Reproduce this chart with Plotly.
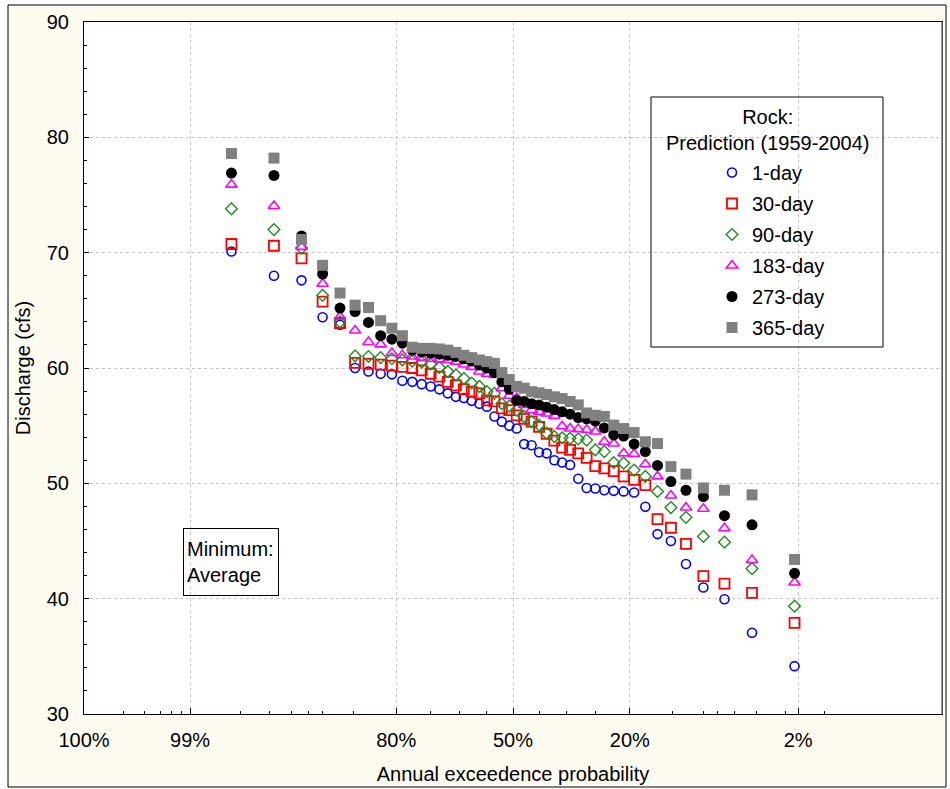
from statistics import NormalDist
import plotly.graph_objects as go

# Rock: annual minimum discharge (cfs), 1959-2004, ranked highest to lowest
YEARS = 46
rank = list(range(1, YEARS + 1))
# Weibull plotting position for each rank (annual exceedance probability)
exceedance = [(YEARS + 1 - k) / (YEARS + 1) for k in rank]

series_names = ["1-day", "30-day", "90-day", "183-day", "273-day", "365-day"]

day1 = [70.1, 68.0, 67.6, 64.4, 63.75, 60.0, 59.7, 59.5, 59.45, 58.9,
        58.8, 58.6, 58.4, 58.15, 57.8, 57.5, 57.4, 57.15, 56.9, 56.65,
        55.8, 55.35, 55.0, 54.75, 53.4, 53.3, 52.7, 52.6, 52.0, 51.8,
        51.6, 50.4, 49.6, 49.55, 49.4, 49.35, 49.3, 49.2, 47.97, 45.6,
        45.0, 43.0, 40.97, 39.95, 37.05, 34.15]
day30 = [70.75, 70.6, 69.5, 65.75, 63.9, 60.45, 60.35, 60.3, 60.2, 60.1,
         60.0, 59.8, 59.5, 59.25, 58.8, 58.5, 58.15, 57.95, 57.8, 57.2,
         57.1, 56.5, 56.35, 55.9, 55.6, 55.35, 54.9, 54.3, 53.7, 53.1,
         52.9, 52.6, 52.2, 51.5, 51.3, 51.05, 50.6, 50.3, 49.85, 46.9,
         46.15, 44.75, 41.95, 41.3, 40.5, 37.9]
day90 = [73.8, 72.0, 70.4, 66.3, 64.0, 61.05, 61.0, 60.9, 60.8, 60.7,
         60.6, 60.5, 60.35, 60.05, 59.7, 59.4, 59.1, 58.7, 58.4, 57.95,
         57.8, 56.9, 56.7, 56.35, 55.8, 55.35, 55.05, 54.35, 54.05, 53.95,
         53.9, 53.85, 53.75, 52.9, 52.75, 51.8, 51.75, 51.15, 50.6, 49.3,
         47.9, 47.05, 45.4, 44.9, 42.6, 39.35]
day183 = [75.9, 74.05, 70.5, 67.3, 64.45, 63.25, 62.25, 62.05, 61.3, 61.1,
          61.0, 60.9, 60.8, 60.75, 60.7, 60.55, 60.3, 60.1, 59.7, 59.5,
          59.4, 58.25, 57.6, 57.4, 56.8, 56.35, 56.2, 56.05, 55.85, 54.95,
          54.75, 54.7, 54.65, 54.5, 53.6, 53.45, 52.6, 52.55, 51.65, 50.6,
          48.95, 47.9, 47.8, 46.1, 43.35, 41.4]
day273 = [76.9, 76.7, 71.45, 68.15, 65.2, 64.9, 63.95, 62.8, 62.5, 62.15,
          61.55, 61.4, 61.3, 61.2, 61.1, 61.0, 60.8, 60.6, 60.25, 60.0,
          59.6, 58.8, 58.15, 57.2, 57.1, 56.9, 56.8, 56.6, 56.4, 56.2,
          56.0, 55.7, 55.6, 55.4, 54.8, 54.2, 54.1, 53.4, 52.75, 51.55,
          50.15, 49.4, 48.85, 47.2, 46.4, 42.2]
day365 = [78.6, 78.2, 71.15, 68.9, 66.5, 65.45, 65.25, 64.1, 63.45, 62.8,
          61.8, 61.7, 61.7, 61.65, 61.55, 61.35, 61.1, 60.9, 60.7, 60.55,
          60.4, 59.6, 59.0, 58.4, 58.25, 57.95, 57.85, 57.7, 57.5, 57.35,
          57.1, 56.8, 56.1, 55.9, 55.8, 55.05, 54.75, 54.4, 53.6, 53.45,
          51.45, 50.8, 49.6, 49.4, 49.0, 43.4]

# Probability-axis ticks (exceedance probabilities)
major_probs = [0.999, 0.99, 0.80, 0.50, 0.20, 0.02]
major_labels = ["100%", "99%", "80%", "50%", "20%", "2%"]
minor_probs = [0.9975, 0.996, 0.9945, 0.993, 0.9915,
               0.975, 0.96, 0.945, 0.93, 0.915, 0.875,
               0.725, 0.65, 0.575, 0.425, 0.35, 0.275,
               0.125, 0.085, 0.07, 0.055, 0.04, 0.025, 0.0125]

nd = NormalDist()


def prob_axis(p):
    """Normal-probability position of an exceedance probability."""
    return nd.inv_cdf(1.0 - p)


x = [prob_axis(p) for p in exceedance]

styles = [
    dict(symbol="circle-open", color="#0000ff", size=9, line=dict(width=1.6, color="#0000ff")),
    dict(symbol="square-open", color="#ff0000", size=10, line=dict(width=1.8, color="#ff0000")),
    dict(symbol="diamond-open", color="#228b22", size=9, line=dict(width=1.4, color="#228b22")),
    dict(symbol="triangle-up-open", color="#ff00ff", size=10, line=dict(width=1.6, color="#ff00ff")),
    dict(symbol="circle", color="#000000", size=11, line=dict(width=0)),
    dict(symbol="square", color="#808080", size=11, line=dict(width=0)),
]

fig = go.Figure()
for name, values, marker in zip(series_names, [day1, day30, day90, day183, day273, day365], styles):
    fig.add_trace(go.Scatter(x=x, y=values, mode="markers", name=name,
                             legendgroup=name, marker=marker))

W, H = 950, 789
L, R, T, B = 84, 8, 22, 75
pw, ph = W - L - R, H - T - B


def px_x(px):
    return (px - L) / pw


def px_y(py):
    return (H - B - py) / ph


font_family = "Liberation Sans, Arial, sans-serif"
FS = 20

fig.update_layout(
    width=W, height=H,
    margin=dict(l=L, r=R, t=T, b=B, autoexpand=False),
    paper_bgcolor="white",
    plot_bgcolor="rgba(0,0,0,0)",
    font=dict(family=font_family, size=FS, color="black"),
    showlegend=True,
    legend=dict(
        x=px_x(712), y=px_y(153), xanchor="left", yanchor="top",
        bgcolor="rgba(0,0,0,0)", borderwidth=0,
        font=dict(size=FS), itemwidth=30, tracegroupgap=2,
        traceorder="grouped",
    ),
    shapes=[
        # page frame
        dict(type="rect", xref="paper", yref="paper", layer="below",
             x0=px_x(8), x1=px_x(946), y0=px_y(787), y1=px_y(5),
             fillcolor="#fdfbef", line=dict(color="black", width=1)),
        # plotting area
        dict(type="rect", xref="paper", yref="paper", layer="below",
             x0=0, x1=1, y0=0, y1=1, fillcolor="white", line=dict(width=0)),
        # legend frame
        dict(type="rect", xref="paper", yref="paper", layer="above",
             x0=px_x(651), x1=px_x(883), y0=px_y(347), y1=px_y(97),
             line=dict(color="black", width=1)),
        # right-hand frame of the plotting area
        dict(type="line", xref="paper", yref="paper", layer="above",
             x0=1, x1=1, y0=0, y1=1, line=dict(color="#707070", width=1.5)),
    ],
    annotations=[
        dict(text="Rock:<br>Prediction (1959-2004)", xref="paper", yref="paper",
             x=px_x(767), y=px_y(130), xanchor="center", yanchor="middle",
             align="center", showarrow=False, font=dict(size=FS)),
        dict(text="Minimum:<br>Average", xref="paper", yref="paper",
             x=px_x(183), y=px_y(528), xanchor="left", yanchor="top",
             align="left", valign="middle", width=88, height=60,
             showarrow=False, bordercolor="black", borderwidth=1,
             borderpad=3, font=dict(size=FS)),
    ],
)

fig.update_xaxes(
    range=[prob_axis(0.999), prob_axis(0.001)],
    tickmode="array",
    tickvals=[prob_axis(p) for p in major_probs],
    ticktext=major_labels,
    ticks="inside", ticklen=6, tickcolor="black",
    showgrid=True, gridcolor="#c4c4c4", griddash="dot", gridwidth=1,
    showline=True, linecolor="black", linewidth=1, mirror=True,
    zeroline=False,
    minor=dict(tickmode="array", tickvals=[prob_axis(p) for p in minor_probs],
               ticks="inside", ticklen=3, tickcolor="black", showgrid=False),
    ticklabelstandoff=8,
    title=dict(text="Annual exceedence probability", standoff=16, font=dict(size=FS)),
)

fig.update_yaxes(
    range=[30, 90],
    tickmode="linear", tick0=30, dtick=10,
    ticks="inside", ticklen=5, tickcolor="black",
    showgrid=True, gridcolor="#c4c4c4", griddash="dot", gridwidth=1,
    showline=True, linecolor="black", linewidth=1, mirror=True,
    zeroline=False,
    minor=dict(dtick=2, ticks="inside", ticklen=3, tickcolor="black", showgrid=False),
    ticklabelstandoff=10,
    title=dict(text="Discharge (cfs)", standoff=10, font=dict(size=FS)),
)

fig.write_html("out.html")
